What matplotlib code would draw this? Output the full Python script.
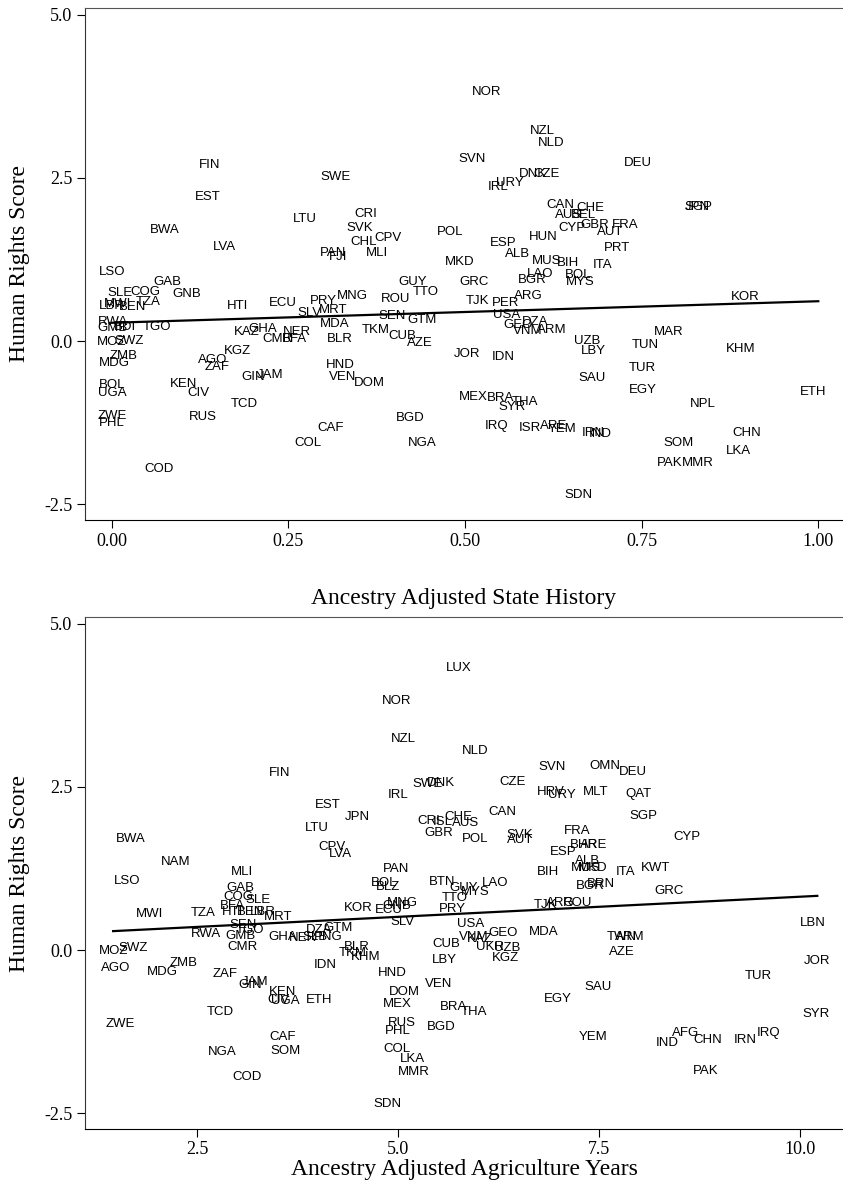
import matplotlib
matplotlib.use('Agg')
import matplotlib.pyplot as plt

# top panel: state history vs human rights
top_codes = ['FIN', 'EST', 'SWE', 'LTU', 'BWA', 'LVA', 'LSO', 'GAB', 'SLE', 'COG',
             'GNB', 'TZA', 'LBR', 'MWI', 'BEN', 'HTI', 'ECU', 'PRY', 'MNG', 'SLV',
             'MRT', 'RWA', 'GMB', 'BDI', 'TGO', 'MOZ', 'SWZ', 'ZMB', 'MDG', 'BOL',
             'UGA', 'ZWE', 'PHL', 'KEN', 'CIV', 'AGO', 'ZAF', 'KGZ', 'KAZ', 'GHA',
             'NER', 'CMR', 'BFA', 'BLR', 'MDA', 'GIN', 'JAM', 'TCD', 'RUS', 'CAF',
             'COL', 'COD', 'GUY', 'TTO', 'GRC', 'BGR', 'LAO', 'MYS', 'BOL', 'ROU',
             'TJK', 'PER', 'ARG', 'SEN', 'GTM', 'USA', 'GEO', 'DZA', 'VNM', 'ARM',
             'TKM', 'CUB', 'AZE', 'JOR', 'IDN', 'UZB', 'LBY', 'HND', 'VEN', 'DOM',
             'SAU', 'MEX', 'BRA', 'THA', 'SYR', 'BGD', 'IRQ', 'ISR', 'ARE', 'YEM',
             'IRN', 'IND', 'NGA', 'NOR', 'NZL', 'NLD', 'SVN', 'DNK', 'CZE', 'IRL',
             'URY', 'CAN', 'CHE', 'AUS', 'BEL', 'CYP', 'GBR', 'FRA', 'AUT', 'CRI',
             'SVK', 'CPV', 'CHL', 'PAN', 'FJI', 'MLI', 'POL', 'ESP', 'HUN', 'ALB',
             'MKD', 'MUS', 'BIH', 'ITA', 'PRT', 'DEU', 'JPN', 'SGP', 'KOR', 'MAR',
             'TUN', 'KHM', 'TUR', 'EGY', 'NPL', 'ETH', 'CHN', 'LKA', 'SOM', 'PAK',
             'MMR', 'SDN']
top_x = [0.139, 0.136, 0.316, 0.273, 0.075, 0.160, 0.000, 0.079, 0.011, 0.047,
         0.106, 0.051, 0.000, 0.008, 0.030, 0.178, 0.242, 0.299, 0.340, 0.280,
         0.313, 0.001, 0.001, 0.018, 0.064, 0.000, 0.025, 0.016, 0.004, 0.000,
         0.000, 0.000, 0.000, 0.101, 0.122, 0.142, 0.149, 0.178, 0.191, 0.214,
         0.262, 0.235, 0.259, 0.323, 0.316, 0.200, 0.224, 0.188, 0.129, 0.309,
         0.278, 0.067, 0.426, 0.445, 0.513, 0.595, 0.606, 0.663, 0.660, 0.401,
         0.517, 0.557, 0.589, 0.397, 0.439, 0.559, 0.575, 0.599, 0.589, 0.623,
         0.373, 0.411, 0.436, 0.503, 0.554, 0.673, 0.681, 0.324, 0.327, 0.365,
         0.680, 0.511, 0.550, 0.585, 0.567, 0.422, 0.545, 0.592, 0.626, 0.637,
         0.681, 0.691, 0.440, 0.530, 0.609, 0.622, 0.510, 0.596, 0.616, 0.547,
         0.564, 0.635, 0.677, 0.646, 0.667, 0.652, 0.684, 0.727, 0.705, 0.360,
         0.351, 0.391, 0.356, 0.313, 0.320, 0.375, 0.479, 0.554, 0.610, 0.574,
         0.492, 0.616, 0.646, 0.694, 0.715, 0.745, 0.829, 0.831, 0.897, 0.788,
         0.755, 0.890, 0.751, 0.751, 0.836, 0.993, 0.899, 0.887, 0.802, 0.790,
         0.829, 0.660]
top_y = [2.70, 2.21, 2.51, 1.87, 1.70, 1.44, 1.06, 0.90, 0.74, 0.75,
         0.72, 0.60, 0.54, 0.57, 0.52, 0.54, 0.58, 0.61, 0.69, 0.43,
         0.47, 0.29, 0.20, 0.21, 0.21, -0.02, 0.00, -0.23, -0.34, -0.67,
         -0.80, -1.15, -1.26, -0.66, -0.80, -0.29, -0.40, -0.15, 0.14, 0.18,
         0.14, 0.03, 0.03, 0.03, 0.26, -0.55, -0.52, -0.96, -1.16, -1.33,
         -1.56, -1.96, 0.90, 0.75, 0.90, 0.93, 1.03, 0.90, 1.01, 0.64,
         0.61, 0.58, 0.69, 0.38, 0.32, 0.40, 0.25, 0.29, 0.15, 0.17,
         0.17, 0.08, -0.03, -0.20, -0.25, 0.00, -0.15, -0.37, -0.55, -0.64,
         -0.57, -0.86, -0.87, -0.93, -1.01, -1.18, -1.30, -1.33, -1.30, -1.35,
         -1.41, -1.42, -1.56, 3.81, 3.22, 3.03, 2.79, 2.56, 2.56, 2.36,
         2.42, 2.08, 2.04, 1.93, 1.93, 1.73, 1.78, 1.78, 1.67, 1.94,
         1.73, 1.58, 1.52, 1.35, 1.29, 1.35, 1.67, 1.50, 1.59, 1.33,
         1.21, 1.23, 1.19, 1.16, 1.42, 2.73, 2.05, 2.05, 0.67, 0.14,
         -0.06, -0.12, -0.41, -0.75, -0.96, -0.78, -1.41, -1.68, -1.56, -1.87,
         -1.87, -2.36]
top_fit_x = [0.0, 1.0]
top_fit_y = [0.28, 0.61]

# bottom panel: agriculture years vs human rights
bot_codes = ['LUX', 'NOR', 'NZL', 'NLD', 'SVN', 'OMN', 'DEU', 'SWE', 'DNK', 'CZE',
             'HRV', 'URY', 'MLT', 'QAT', 'IRL', 'FIN', 'EST', 'JPN', 'LTU', 'CHE',
             'CRI', 'ISL', 'AUS', 'GBR', 'CAN', 'SGP', 'CYP', 'POL', 'SVK', 'AUT',
             'FRA', 'ESP', 'BHR', 'ARE', 'KWT', 'ITA', 'ALB', 'MUS', 'MKD', 'BIH',
             'BGR', 'BRN', 'GRC', 'TJK', 'ARG', 'ROU', 'LBN', 'BWA', 'CPV', 'LVA',
             'NAM', 'MLI', 'LSO', 'GAB', 'COG', 'SLE', 'BFA', 'HTI', 'BEN', 'LBR',
             'MRT', 'MWI', 'TZA', 'RWA', 'GMB', 'TGO', 'SEN', 'CMR', 'GHA', 'NER',
             'SLB', 'PNG', 'DZA', 'GTM', 'MOZ', 'SWZ', 'AGO', 'MDG', 'ZMB', 'ZAF',
             'GIN', 'JAM', 'KEN', 'CIV', 'UGA', 'ETH', 'TCD', 'ZWE', 'CAF', 'SOM',
             'NGA', 'COD', 'BOL', 'BLZ', 'PAN', 'BTN', 'LAO', 'GUY', 'MYS', 'TTO',
             'PRY', 'KOR', 'ECU', 'MNG', 'GNB', 'SLV', 'USA', 'GEO', 'MDA', 'VNM',
             'KAZ', 'UKR', 'UZB', 'KGZ', 'CUB', 'LBY', 'BLR', 'TKM', 'KHM', 'HND',
             'IDN', 'VEN', 'DOM', 'MEX', 'BRA', 'THA', 'RUS', 'PHL', 'BGD', 'COL',
             'LKA', 'MMR', 'SDN', 'EGY', 'TWN', 'ARM', 'AZE', 'JOR', 'TUR', 'SAU',
             'SYR', 'YEM', 'IND', 'AFG', 'CHN', 'IRN', 'IRQ', 'PAK']
bot_x = [5.75, 4.98, 5.06, 5.96, 6.92, 7.58, 7.92, 5.36, 5.53, 6.43,
         6.90, 7.04, 7.46, 7.99, 5.00, 3.53, 4.12, 4.49, 3.99, 5.75,
         5.38, 5.55, 5.84, 5.50, 6.30, 8.05, 8.60, 5.96, 6.52, 6.52,
         7.23, 7.06, 7.31, 7.43, 8.20, 7.83, 7.36, 7.33, 7.42, 6.87,
         7.39, 7.52, 8.37, 6.83, 7.02, 7.24, 10.16, 1.67, 4.18, 4.28,
         2.23, 3.06, 1.62, 3.04, 3.01, 3.25, 2.94, 2.94, 3.16, 3.31,
         3.50, 1.90, 2.57, 2.61, 3.04, 3.16, 3.07, 3.06, 3.56, 3.81,
         3.97, 4.13, 4.01, 4.25, 1.45, 1.70, 1.48, 2.06, 2.33, 2.85,
         3.16, 3.22, 3.56, 3.51, 3.60, 4.02, 2.79, 1.54, 3.56, 3.60,
         2.81, 3.12, 4.82, 4.87, 4.98, 5.55, 6.21, 5.81, 5.96, 5.71,
         5.68, 4.50, 4.88, 5.05, 4.98, 5.05, 5.90, 6.31, 6.81, 5.94,
         6.02, 6.15, 6.36, 6.33, 5.60, 5.58, 4.49, 4.44, 4.59, 4.93,
         4.09, 5.50, 5.08, 4.99, 5.69, 5.94, 5.05, 4.99, 5.54, 4.99,
         5.18, 5.19, 4.87, 6.99, 7.79, 7.89, 7.79, 10.22, 9.49, 7.49,
         10.20, 7.43, 8.35, 8.58, 8.86, 9.32, 9.61, 8.83]
bot_y = [4.32, 3.81, 3.23, 3.05, 2.80, 2.82, 2.73, 2.54, 2.56, 2.57,
         2.42, 2.37, 2.42, 2.39, 2.37, 2.71, 2.22, 2.04, 1.87, 2.04,
         1.98, 1.96, 1.94, 1.79, 2.11, 2.05, 1.73, 1.70, 1.76, 1.68,
         1.82, 1.50, 1.61, 1.61, 1.26, 1.19, 1.36, 1.26, 1.26, 1.19,
         0.98, 1.01, 0.90, 0.69, 0.72, 0.72, 0.41, 1.70, 1.58, 1.47,
         1.35, 1.19, 1.06, 0.95, 0.81, 0.77, 0.67, 0.58, 0.58, 0.58,
         0.51, 0.55, 0.57, 0.25, 0.21, 0.31, 0.38, 0.05, 0.20, 0.18,
         0.20, 0.20, 0.31, 0.34, -0.02, 0.03, -0.28, -0.34, -0.20, -0.37,
         -0.54, -0.49, -0.64, -0.77, -0.78, -0.77, -0.95, -1.13, -1.33, -1.55,
         -1.56, -1.94, 1.03, 0.96, 1.24, 1.04, 1.03, 0.95, 0.89, 0.80,
         0.63, 0.64, 0.61, 0.72, 0.67, 0.43, 0.40, 0.26, 0.28, 0.20,
         0.17, 0.05, 0.03, -0.12, 0.09, -0.15, 0.05, -0.05, -0.11, -0.35,
         -0.23, -0.52, -0.64, -0.83, -0.87, -0.95, -1.12, -1.24, -1.18, -1.52,
         -1.67, -1.87, -2.36, -0.75, 0.20, 0.20, -0.03, -0.17, -0.40, -0.57,
         -0.98, -1.33, -1.42, -1.27, -1.38, -1.38, -1.27, -1.85]
bot_fit_x = [1.45, 10.22]
bot_fit_y = [0.29, 0.83]

serif = 'Liberation Serif'
sans = 'Liberation Sans'

W, H = 843, 1185
fig = plt.figure(figsize=(W / 100, H / 100), dpi=100)


def panel(box, codes, xs, ys, fit_x, fit_y, xlim, xticks, xticklabels, xlabel, xpad):
    l, t, r, b = box
    ax = fig.add_axes([l / W, 1 - b / H, (r - l) / W, (b - t) / H])
    for c, x, y in zip(codes, xs, ys):
        ax.text(x, y, c, ha='center', va='center', fontsize=9.5,
                family=sans, color='black')
    ax.plot(fit_x, fit_y, color='black', lw=1.6)
    ax.set_xlim(*xlim)
    ax.set_ylim(-2.74, 5.1)
    ax.set_yticks([-2.5, 0, 2.5, 5.0])
    ax.set_yticklabels(['-2.5', '0.0', '2.5', '5.0'], family=serif, fontsize=13)
    ax.set_xticks(xticks)
    ax.set_xticklabels(xticklabels, family=serif, fontsize=13)
    ax.tick_params(direction='out', length=6, width=0.8, pad=3)
    ax.spines['right'].set_visible(False)
    for s in ['left', 'bottom', 'top']:
        ax.spines[s].set_linewidth(0.8)
    ax.spines['top'].set_color('#555555')
    ax.spines['left'].set_color('#333333')
    ax.set_xlabel(xlabel, family=serif, fontsize=17, labelpad=xpad)
    ax.set_ylabel('Human Rights Score', family=serif, fontsize=17, labelpad=10)
    return ax


panel((85, 8, 843, 520), top_codes, top_x, top_y, top_fit_x, top_fit_y,
      (-0.038, 1.035), [0, 0.25, 0.5, 0.75, 1.0],
      ['0.00', '0.25', '0.50', '0.75', '1.00'], 'Ancestry Adjusted State History', 28)

panel((85, 617, 843, 1129), bot_codes, bot_x, bot_y, bot_fit_x, bot_fit_y,
      (1.10, 10.54), [2.5, 5.0, 7.5, 10.0],
      ['2.5', '5.0', '7.5', '10.0'], 'Ancestry Adjusted Agriculture Years', 0)

fig.savefig('out.png', dpi=100)
